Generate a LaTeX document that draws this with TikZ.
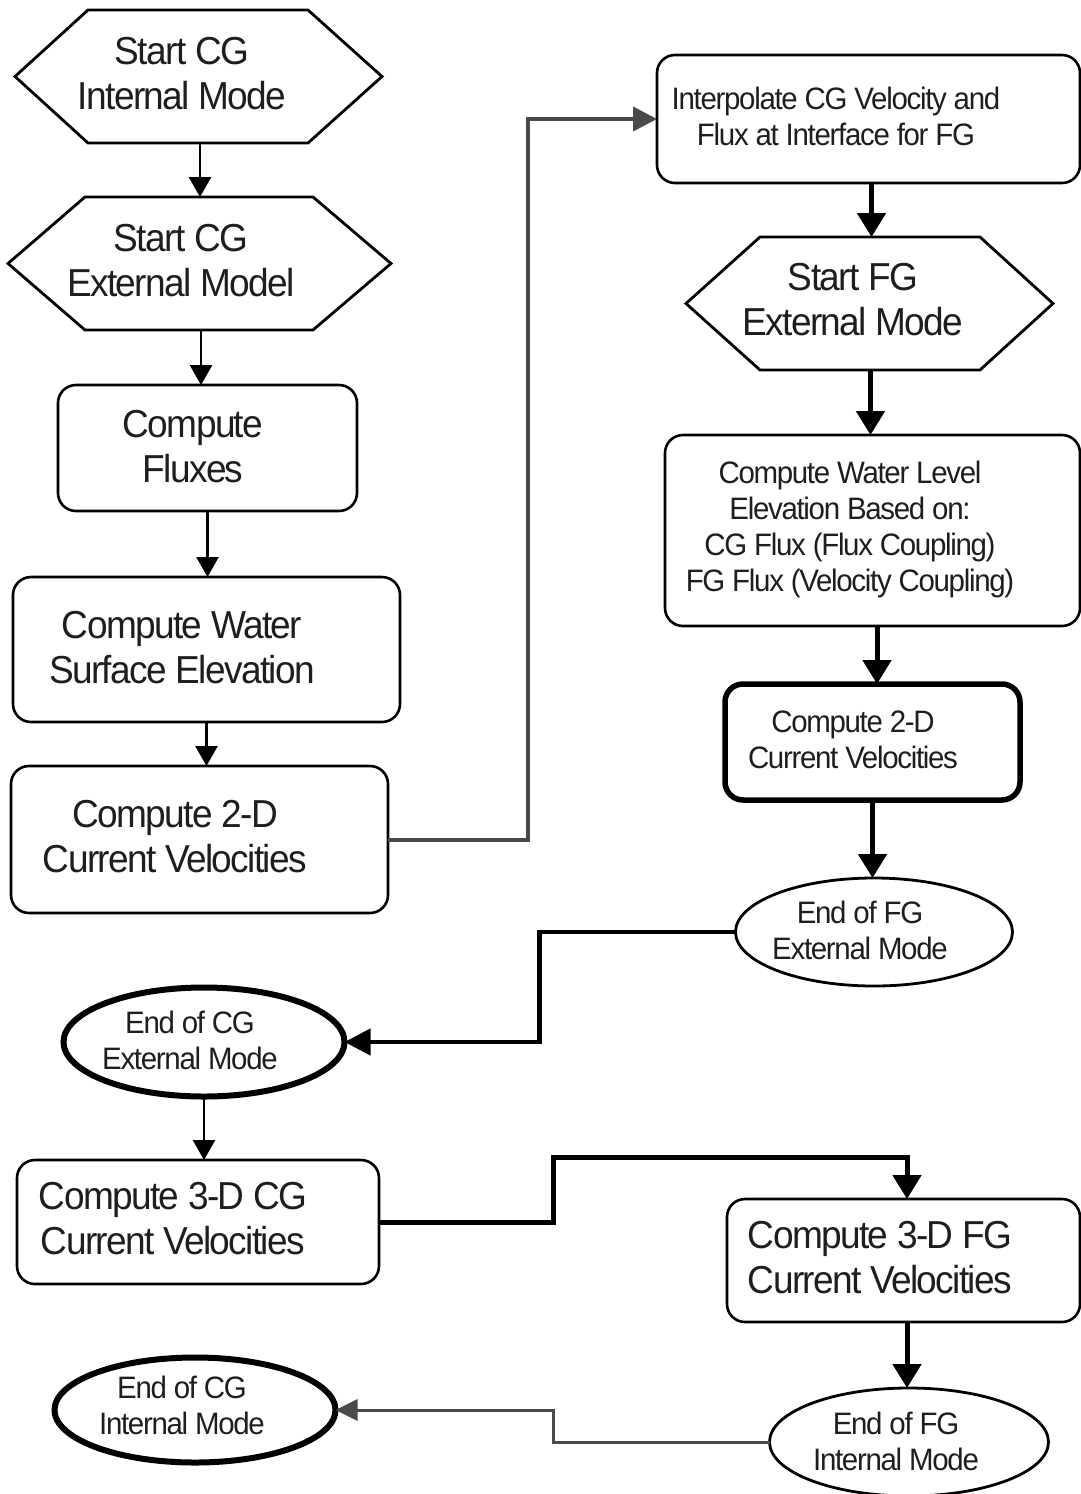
\documentclass[tikz,border=0pt]{standalone}
\usepackage{fontspec}
\newfontfamily\df[FakeStretch=0.95,LetterSpace=-4.2]{Liberation Sans}
\usetikzlibrary{arrows.meta,shapes.geometric}
\definecolor{txt}{HTML}{1E1E1E}
\definecolor{gline}{HTML}{4A4A4A}
\begin{document}
\begin{tikzpicture}[x=1pt,y=-1pt,
  frame/.style={draw=none,inner sep=0pt,outer sep=0pt},
  box/.style={draw,line width=2.6pt,rounded corners=18pt,inner sep=0pt,outer sep=0pt},
  thickbox/.style={box,line width=5.5pt},
  oval/.style={draw,ellipse,line width=2.8pt,inner sep=0pt,outer sep=0pt},
  thickoval/.style={oval,line width=6pt},
  hexline/.style={line width=2.8pt,line join=miter},
  big/.style={text=txt,align=center,font=\df\fontsize{39}{45}\selectfont},
  mid/.style={text=txt,align=center,font=\df\fontsize{31}{36}\selectfont},
  arrL/.style={line width=2.8pt,-{Triangle[length=20pt,width=22pt]}},
  arrR/.style={line width=5pt,-{Triangle[length=24pt,width=28pt]}},
  grayA/.style={draw=gline,line width=4pt,-{Triangle[length=24pt,width=24pt]}},
  blackC/.style={line width=4.5pt,-{Triangle[length=26pt,width=26pt]}},
  grayB/.style={draw=gline,line width=3pt,-{Triangle[length=22pt,width=21pt]}}
]
\useasboundingbox (0,0) rectangle (1081,1494);
\clip (0,0) rectangle (1081,1494);
\fill[white] (0,0) rectangle (1081,1494);

% hexagon frames
\node[frame,minimum width=367pt,minimum height=133pt] (h1) at (198.5,76.5) {};
\node[frame,minimum width=383pt,minimum height=133pt] (h2) at (199.5,263.5) {};
\node[frame,minimum width=367pt,minimum height=133pt] (h3) at (869.5,303.5) {};
\draw[hexline] (h1.west) -- ([xshift=73pt]h1.north west) -- ([xshift=-74pt]h1.north east) -- (h1.east) -- ([xshift=-74pt]h1.south east) -- ([xshift=73pt]h1.south west) -- cycle;
\draw[hexline] (h2.west) -- ([xshift=77pt]h2.north west) -- ([xshift=-78pt]h2.north east) -- (h2.east) -- ([xshift=-78pt]h2.south east) -- ([xshift=77pt]h2.south west) -- cycle;
\draw[hexline] (h3.west) -- ([xshift=74pt]h3.north west) -- ([xshift=-73pt]h3.north east) -- (h3.east) -- ([xshift=-73pt]h3.south east) -- ([xshift=74pt]h3.south west) -- cycle;

% boxes
\node[box,minimum width=299pt,minimum height=126pt] (b1) at (207.5,448) {};
\node[box,minimum width=387pt,minimum height=145pt] (b2) at (206.5,649.5) {};
\node[box,minimum width=377pt,minimum height=147pt] (b3) at (199.5,839.5) {};
\node[box,minimum width=423pt,minimum height=128pt] (b4) at (868.5,119) {};
\node[box,minimum width=415pt,minimum height=191pt] (b5) at (872.5,530.5) {};
\node[thickbox,minimum width=295pt,minimum height=116pt] (b6) at (872.5,742) {};
\node[box,minimum width=362pt,minimum height=124pt] (b7) at (198,1222) {};
\node[box,minimum width=353pt,minimum height=123pt] (b8) at (903.5,1260.5) {};

% ovals
\node[oval,minimum width=277pt,minimum height=108pt] (e1) at (874,932) {};
\node[thickoval,minimum width=281pt,minimum height=109pt] (e2) at (204,1042) {};
\node[oval,minimum width=279pt,minimum height=108pt] (e3) at (909,1442) {};
\node[thickoval,minimum width=281pt,minimum height=105pt] (e4) at (195,1410) {};

% texts
\node[big] (t1) at (182,74) {Start CG\\Internal Mode};
\node[big] (t2) at (181,261) {Start CG\\External Model};
\node[big] (t3) at (193,447) {Compute\\Fluxes};
\node[big] (t4) at (182,648) {Compute Water\\Surface Elevation};
\node[big] (t5) at (175,837) {Compute 2-D\\Current Velocities};
\node[mid] (t6) at (836,116) {Interpolate CG Velocity and\\Flux at Interface for FG};
\node[big] (t7) at (853,300) {Start FG\\External Mode};
\node[mid] (t8) at (850,529) {Compute Water Level\\Elevation Based on:\\CG Flux (Flux Coupling)\\FG Flux (Velocity Coupling)};
\node[mid] (t9) at (853,740) {Compute 2-D\\Current Velocities};
\node[mid] (t10) at (860,930) {End of FG\\External Mode};
\node[mid] (t11) at (190,1040) {End of CG\\External Mode};
\node[big] (t12) at (173,1219) {Compute 3-D CG\\Current Velocities};
\node[big] (t13) at (880,1258) {Compute 3-D FG\\Current Velocities};
\node[mid] (t14) at (896,1441) {End of FG\\Internal Mode};
\node[mid] (t15) at (182,1405) {End of CG\\Internal Mode};

% connectors
\draw[arrL] ([xshift=1.5pt]h1.south) -- ([xshift=1.5pt]h1.south |- h2.north);
\draw[arrL] ([xshift=1.5pt]h2.south) -- ([xshift=1.5pt]h2.south |- b1.north);
\draw[arrL] (b1.south) -- (b1.south |- b2.north);
\draw[arrL] (b2.south) -- (b2.south |- b3.north);
\draw[grayA] (b3.east) -- ++(140,0) |- (b4.west);
\draw[arrR] ([xshift=3pt]b4.south) -- ([xshift=3pt]b4.south |- h3.north);
\draw[arrR] ([xshift=1pt]h3.south) -- ([xshift=1pt]h3.south |- b5.north);
\draw[arrR] ([xshift=4.5pt]b5.south) -- ([xshift=4.5pt]b5.south |- b6.north);
\draw[arrR] (b6.south) -- (b6.south |- e1.north);
\draw[blackC] (e1.west) -- ++(-196,0) |- (e2.east);
\draw[arrL] (e2.south) -- (e2.south |- b7.north);
\draw[arrR] (b7.east) -| ++(174,-65) -| ([xshift=3.5pt]b8.north);
\draw[arrR] ([xshift=3.5pt]b8.south) -- ([xshift=3.5pt]b8.south |- e3.north);
\draw[grayB] (e3.west) -- ++(-216,0) |- (e4.east);
\end{tikzpicture}
\end{document}
